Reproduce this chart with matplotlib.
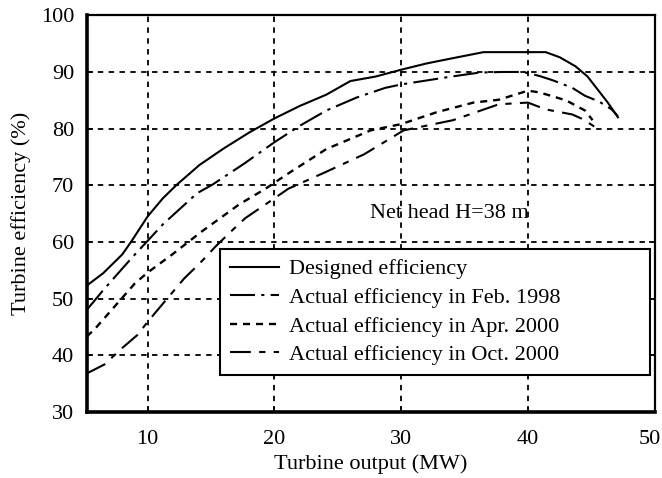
import numpy as np
import matplotlib
matplotlib.use("Agg")
import matplotlib.pyplot as plt
from matplotlib.transforms import ScaledTranslation

plt.rcParams["font.family"] = ["Liberation Serif", "DejaVu Serif"]

# ---- data ----
x_design = [5.2, 6.5, 8.0, 8.75, 10.0, 11.2, 12.3, 14.1, 16.0, 18.0, 20.0, 22.0, 24.1, 26.0,
            28.0, 30.0, 32.0, 34.0, 36.5, 38.0, 40.0, 41.4, 42.5, 43.75, 44.7, 45.5, 46.3, 47.1]
y_design = [52.3, 54.5, 57.8, 60.2, 64.5, 67.7, 70.1, 73.6, 76.5, 79.3, 81.8, 84.0, 86.0, 88.4,
            89.2, 90.4, 91.5, 92.4, 93.5, 93.5, 93.5, 93.5, 92.6, 91.0, 89.2, 86.9, 84.6, 82.0]

x_feb98 = [5.2, 6.5, 8.0, 9.0, 10.0, 11.2, 13.9, 15.1, 17.6, 20.0, 22.0, 24.1, 26.5, 28.75,
           30.0, 32.0, 34.0, 36.2, 38.0, 39.6, 40.9, 42.0, 43.5, 44.5, 45.6, 46.6, 47.1]
y_feb98 = [48.0, 51.5, 55.3, 57.8, 60.2, 63.1, 68.6, 70.1, 73.8, 77.6, 80.5, 83.2, 85.5, 87.2,
           87.8, 88.5, 89.2, 89.9, 90.0, 90.0, 89.3, 88.5, 87.2, 85.8, 84.8, 83.4, 82.2]

x_apr00 = [5.2, 5.9, 7.0, 9.0, 10.0, 12.0, 14.3, 17.2, 19.3, 21.1, 24.1, 27.6, 30.0, 32.8,
           35.7, 37.7, 40.0, 40.9, 43.0, 44.5, 45.1]
y_apr00 = [43.3, 44.8, 47.6, 52.7, 54.6, 57.9, 61.9, 66.6, 69.4, 72.1, 76.4, 79.7, 80.8, 82.9,
           84.6, 85.1, 86.7, 86.4, 85.0, 83.2, 81.5]

x_oct00 = [5.2, 6.6, 8.0, 9.2, 10.0, 10.9, 12.9, 14.1, 15.4, 16.6, 17.7, 20.0, 21.1, 24.1,
           27.1, 30.2, 34.1, 37.7, 40.0, 41.4, 43.5, 44.3, 45.5]
y_oct00 = [36.8, 38.4, 41.3, 43.6, 45.9, 48.3, 53.6, 56.2, 59.3, 61.9, 64.2, 67.7, 69.4, 72.4,
           75.5, 79.7, 81.5, 84.3, 84.6, 83.4, 82.5, 81.7, 80.0]

labels = ["Designed efficiency", "Actual efficiency in Feb. 1998",
          "Actual efficiency in Apr. 2000", "Actual efficiency in Oct. 2000"]
x_ticks = [10, 20, 30, 40, 50]
y_ticks = [30, 40, 50, 60, 70, 80, 90, 100]

fig = plt.figure(figsize=(6.62, 4.78), dpi=100)
ax = fig.add_axes([0.131, 0.138, 0.858, 0.830])

ax.plot(x_design, y_design, color="black", lw=1.5, ls="-", label=labels[0])
ax.plot(x_feb98, y_feb98, color="black", lw=1.5, ls=(0, (12, 3, 1.5, 3)), label=labels[1])
ax.plot(x_apr00, y_apr00, color="black", lw=1.7, ls=(0, (3, 2.5)), label=labels[2])
ax.plot(x_oct00, y_oct00, color="black", lw=1.5, ls=(0, (10, 4, 3, 4)), label=labels[3])

ax.set_xlim(5.2, 50)
ax.set_ylim(30, 100)
ax.set_xticks(x_ticks)
ax.set_yticks(y_ticks)
ax.grid(True, color="black", ls=(0, (3, 3)), lw=1.3)
ax.set_axisbelow(True)

ax.tick_params(direction="in", length=4, width=1.2, labelsize=16, colors="black",
               right=True, top=False)
ax.tick_params(axis="x", pad=13)
ax.tick_params(axis="y", pad=9)
for side in ["left", "bottom"]:
    ax.spines[side].set_linewidth(2.6)
for side in ["top", "right"]:
    ax.spines[side].set_linewidth(1.6)

# the last x label sits at the figure edge, nudge it left a little
last = ax.get_xticklabels()[-1]
last.set_transform(last.get_transform() + ScaledTranslation(-5 / 100, 0, fig.dpi_scale_trans))

ax.set_xlabel("Turbine output (MW)", fontsize=16, labelpad=4)
ax.set_ylabel("Turbine efficiency (%)", fontsize=16, labelpad=7)

ax.text(33.8, 65.1, "Net head H=38 m", fontsize=16, ha="center", va="center")

leg = ax.legend(loc="lower left", bbox_to_anchor=(0.235, 0.093, 0.756, 0.312),
                mode="expand", fontsize=16, frameon=True, fancybox=False,
                handlelength=2.2, handletextpad=0.45, borderpad=0.45,
                labelspacing=0.36, framealpha=1, borderaxespad=0)
leg.get_frame().set_edgecolor("black")
leg.get_frame().set_linewidth(1.5)

fig.savefig("out.png", dpi=100)
